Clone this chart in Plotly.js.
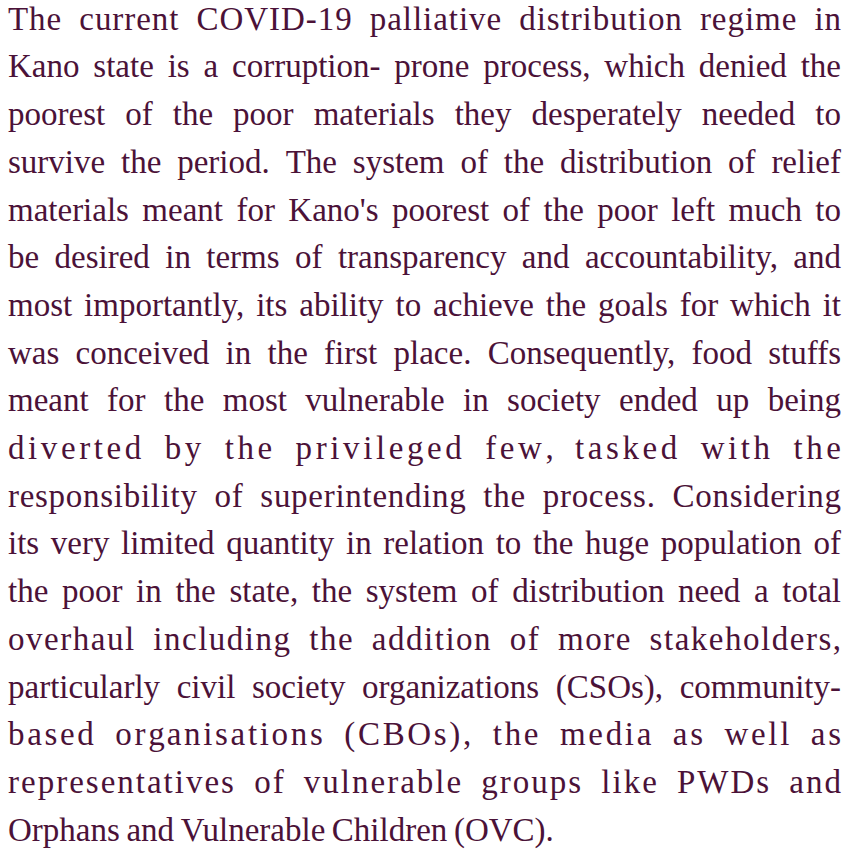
<!DOCTYPE html>
<html><head><meta charset="utf-8">
<script src="https://cdn.plot.ly/plotly-3.0.1.min.js"></script>
<style>html,body{margin:0;padding:0;background:#fff;overflow:hidden}#chart{width:849px;height:855px}</style>
</head><body><div id="chart"></div>
<script>
// Text content, one entry per printed line
const lines = [
  "The current COVID-19 palliative distribution regime in",
  "Kano state is a corruption- prone process, which denied the",
  "poorest of the poor materials they desperately needed to",
  "survive the period. The system of the distribution of relief",
  "materials meant for Kano's poorest of the poor left much to",
  "be desired in terms of transparency and accountability, and",
  "most importantly, its ability to achieve the goals for which it",
  "was conceived in the first place. Consequently, food stuffs",
  "meant for the most vulnerable in society ended up being",
  "diverted by the privileged few, tasked with the",
  "responsibility of superintending the process. Considering",
  "its very limited quantity in relation to the huge population of",
  "the poor in the state, the system of distribution need a total",
  "overhaul including the addition of more stakeholders,",
  "particularly civil society organizations (CSOs), community-",
  "based organisations (CBOs), the media as well as",
  "representatives of vulnerable groups like PWDs and",
  "Orphans and Vulnerable Children (OVC)."
];

// layout / style settings
const W = 849, H = 855;
const LEFT = 8, RIGHT = 841;
const FIRST_BASELINE = 33, LINE_STEP = 47.7;
const FAMILY = 'Liberation Serif';
const COLOR = '#4b1238';
const STRETCH_LIMIT = 1.6;

const ctx = document.createElement('canvas').getContext('2d');
function setFont(fs){ ctx.font = fs + 'px "' + FAMILY + '", serif'; }
function measure(s){ return ctx.measureText(s).width; }

// choose font size so the widest justified line fits with tight spaces
setFont(100);
let fs = 33;
lines.slice(0, -1).forEach(l => {
  const words = l.split(' ');
  const wsum = words.reduce((a, w) => a + measure(w), 0);
  const need = wsum + 0.55 * measure(' ') * (words.length - 1);
  fs = Math.min(fs, (RIGHT - LEFT) * 100 / need);
});
fs = Math.floor(fs * 2) / 2;
setFont(fs);

const xs = [], ys = [], ts = [];
const sp = measure(' ');
lines.forEach((line, i) => {
  const last = i === lines.length - 1;
  const words = line.split(' ');
  const ww = words.map(measure);
  if (last) {
    let x = LEFT;
    const g = sp * 0.8;
    words.forEach((w, k) => { xs.push(x); ys.push(i); ts.push(w); x += ww[k] + g; });
    return;
  }
  const gaps = words.length - 1;
  const extra = (RIGHT - LEFT) - ww.reduce((a, b) => a + b, 0) - sp * gaps;
  if (extra / gaps <= STRETCH_LIMIT * sp) {
    let x = LEFT;
    const g = sp + extra / gaps;
    words.forEach((w, k) => { xs.push(x); ys.push(i); ts.push(w); x += ww[k] + g; });
  } else {
    // split extra: word gaps take up to the limit, the rest goes into letter spacing
    const wordPart = STRETCH_LIMIT * 0.6 * sp * gaps;
    const ls = (extra - wordPart) / (line.length - 1);
    const gExtra = wordPart / gaps;
    let gi = 0;
    for (let k = 0; k < line.length; k++) {
      const ch = line[k];
      if (ch === ' ') { gi++; continue; }
      xs.push(LEFT + measure(line.slice(0, k)) + k * ls + gi * gExtra);
      ys.push(i); ts.push(ch);
    }
  }
});

// y axis in line units: line i baseline at FIRST_BASELINE + i*LINE_STEP px
const y0 = FIRST_BASELINE - 0.35 * fs;
const trace = {
  type: 'scatter', mode: 'text', x: xs, y: ys, text: ts,
  textposition: 'middle right', hoverinfo: 'skip', cliponaxis: false,
  textfont: {family: FAMILY + ', serif', size: fs, color: COLOR}
};
const layout = {
  width: W, height: H, margin: {l: 0, r: 0, t: 0, b: 0},
  paper_bgcolor: '#ffffff', plot_bgcolor: '#ffffff', showlegend: false,
  xaxis: {range: [0, W], visible: false, fixedrange: true},
  yaxis: {range: [(H - y0) / LINE_STEP, -y0 / LINE_STEP], visible: false, fixedrange: true}
};
Plotly.newPlot('chart', [trace], layout, {staticPlot: true, displayModeBar: false});
</script>
</body></html>
